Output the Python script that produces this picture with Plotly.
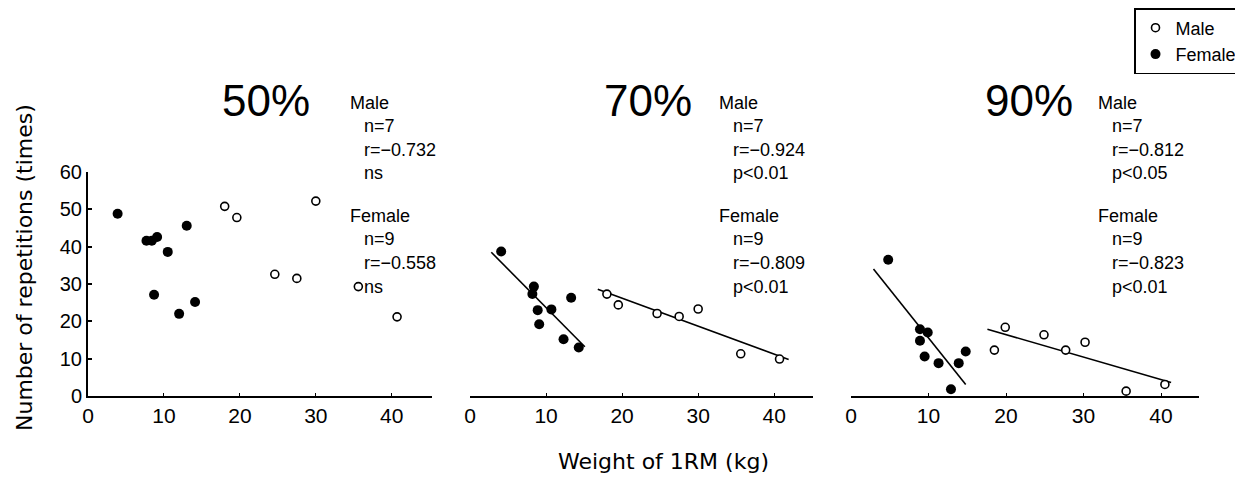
import plotly.graph_objects as go

# ---------------- data ----------------
x_ticks = [0, 10, 20, 30, 40]
y_ticks = [0, 10, 20, 30, 40, 50, 60]
panel_titles = ["50%", "70%", "90%"]

male_x_50 = [18.0, 19.6, 24.6, 27.5, 30.0, 35.6, 40.7]
male_y_50 = [50.8, 47.8, 32.6, 31.5, 52.2, 29.3, 21.2]
female_x_50 = [3.9, 7.7, 8.4, 9.1, 10.5, 13.0, 8.7, 12.0, 14.1]
female_y_50 = [48.8, 41.6, 41.6, 42.6, 38.6, 45.6, 27.1, 22.0, 25.2]

male_x_70 = [18.0, 19.5, 24.6, 27.5, 30.0, 35.6, 40.7]
male_y_70 = [27.3, 24.4, 22.1, 21.3, 23.3, 11.3, 9.9]
female_x_70 = [4.1, 8.4, 8.2, 8.9, 10.7, 9.1, 13.3, 12.3, 14.3]
female_y_70 = [38.7, 29.3, 27.3, 23.0, 23.2, 19.2, 26.3, 15.2, 13.0]
male_fit_x_70 = [16.8, 41.9]
male_fit_y_70 = [28.6, 9.8]
female_fit_x_70 = [2.8, 15.1]
female_fit_y_70 = [38.5, 13.2]

male_x_90 = [18.5, 19.9, 24.9, 27.7, 30.2, 35.5, 40.5]
male_y_90 = [12.3, 18.4, 16.4, 12.3, 14.4, 1.3, 3.1]
female_x_90 = [4.8, 8.9, 9.9, 8.9, 9.5, 11.3, 13.9, 14.8, 12.9]
female_y_90 = [36.5, 17.9, 17.0, 14.8, 10.6, 8.8, 8.8, 11.9, 1.8]
male_fit_x_90 = [17.6, 41.3]
male_fit_y_90 = [17.9, 3.6]
female_fit_x_90 = [2.9, 14.8]
female_fit_y_90 = [34.0, 3.1]

male_stats = [["n=7", "r=\u22120.732", "ns"],
              ["n=7", "r=\u22120.924", "p<0.01"],
              ["n=7", "r=\u22120.812", "p<0.05"]]
female_stats = [["n=9", "r=\u22120.558", "ns"],
                ["n=9", "r=\u22120.809", "p<0.01"],
                ["n=9", "r=\u22120.823", "p<0.01"]]

x_title = "Weight of 1RM (kg)"
y_title = "Number of repetitions (times)"

# ---------------- layout geometry ----------------
# the page body adds an 8px offset, so the figure is 8px smaller and all
# target screen positions are shifted by OFF
OFF = 8
W, H = 1243 - OFF, 477 - OFF
ML = 88 - OFF
MT = 172 - OFF
PLOT_RIGHT = 1199 - OFF
PLOT_BOTTOM = 396 - OFF
MR = W - PLOT_RIGHT
MB = H - PLOT_BOTTOM
PW = W - ML - MR
PH = H - MT - MB

def px_x(p):
    return (p - OFF - ML) / PW

def px_y(p):
    return (PLOT_BOTTOM - (p - OFF)) / PH

panel_px = [(88, 432), (470, 813), (851, 1199)]
x_ranges = [[0, 45.3], [0, 45.1], [0, 44.9]]

FONT = "Liberation Sans, Arial, Helvetica, sans-serif"
TITLE_FONT = "DejaVu Sans, Liberation Sans, sans-serif"

fig = go.Figure()

panels = [
    (male_x_50, male_y_50, female_x_50, female_y_50, None),
    (male_x_70, male_y_70, female_x_70, female_y_70,
     (male_fit_x_70, male_fit_y_70, female_fit_x_70, female_fit_y_70)),
    (male_x_90, male_y_90, female_x_90, female_y_90,
     (male_fit_x_90, male_fit_y_90, female_fit_x_90, female_fit_y_90)),
]

for i, (mx, my, fx, fy, fits) in enumerate(panels):
    xa = "x" if i == 0 else f"x{i+1}"
    ya = "y" if i == 0 else f"y{i+1}"
    if fits is not None:
        mfx, mfy, ffx, ffy = fits
        fig.add_trace(go.Scatter(x=mfx, y=mfy, mode="lines", xaxis=xa, yaxis=ya,
                                 line=dict(color="black", width=1.6),
                                 showlegend=False, hoverinfo="skip"))
        fig.add_trace(go.Scatter(x=ffx, y=ffy, mode="lines", xaxis=xa, yaxis=ya,
                                 line=dict(color="black", width=1.6),
                                 showlegend=False, hoverinfo="skip"))
    fig.add_trace(go.Scatter(x=mx, y=my, mode="markers", xaxis=xa, yaxis=ya,
                             name="Male", legendgroup="m", showlegend=(i == 0),
                             cliponaxis=False,
                             marker=dict(symbol="circle", size=8, color="white",
                                         line=dict(color="black", width=1.6))))
    fig.add_trace(go.Scatter(x=fx, y=fy, mode="markers", xaxis=xa, yaxis=ya,
                             name="Female", legendgroup="f", showlegend=(i == 0),
                             cliponaxis=False,
                             marker=dict(symbol="circle", size=10, color="black",
                                         line=dict(color="black", width=0))))

layout = dict(
    width=W, height=H,
    margin=dict(l=ML, r=MR, t=MT, b=MB, autoexpand=False),
    paper_bgcolor="white", plot_bgcolor="white",
    font=dict(family=FONT, color="black"),
    showlegend=True,
    legend=dict(x=px_x(1134), y=px_y(8), xanchor="left", yanchor="top",
                bordercolor="black", borderwidth=1.5, bgcolor="white",
                font=dict(size=18, family=FONT, color="black"),
                tracegroupgap=0, traceorder="normal"),
)

for i, (a, b) in enumerate(panel_px):
    xk = "xaxis" if i == 0 else f"xaxis{i+1}"
    yk = "yaxis" if i == 0 else f"yaxis{i+1}"
    ya = "y" if i == 0 else f"y{i+1}"
    xa = "x" if i == 0 else f"x{i+1}"
    layout[xk] = dict(domain=[max(0, px_x(a)), min(1, px_x(b))], range=x_ranges[i], anchor=ya,
                      showline=True, linecolor="black", linewidth=2,
                      ticks="inside", ticklen=3, tickwidth=1, tickcolor="black",
                      tickvals=x_ticks, tickfont=dict(size=21, family=FONT),
                      showgrid=False, zeroline=False, fixedrange=True)
    if i == 0:
        layout[yk] = dict(range=[0, 60], anchor=xa, domain=[0, 1],
                          showline=True, linecolor="black", linewidth=2,
                          ticks="inside", ticklen=4, tickwidth=1.5, tickcolor="black",
                          tickvals=y_ticks, tickfont=dict(size=20, family=FONT),
                          showgrid=False, zeroline=False, fixedrange=True)
    else:
        layout[yk] = dict(range=[0, 60], anchor=xa, domain=[0, 1], visible=False,
                          showgrid=False, zeroline=False, fixedrange=True)

annotations = []
title_cx = [266, 648, 1029]
header_x = [348, 717, 1096]
male_rows_y = [103, 126, 150, 173]
female_rows_y = [216, 239, 263, 287]

for i in range(3):
    annotations.append(dict(text=panel_titles[i], xref="paper", yref="paper",
                            x=px_x(title_cx[i]), y=px_y(101), xanchor="center",
                            yanchor="middle", showarrow=False,
                            font=dict(size=44, family=FONT, color="black")))
    blocks = [("Male", male_stats[i], male_rows_y), ("Female", female_stats[i], female_rows_y)]
    for head, rows, ys in blocks:
        annotations.append(dict(text=head, xref="paper", yref="paper",
                                x=px_x(header_x[i]), y=px_y(ys[0]), xanchor="left",
                                yanchor="middle", showarrow=False,
                                font=dict(size=18, family=FONT, color="black")))
        for t, yy in zip(rows, ys[1:]):
            annotations.append(dict(text=t, xref="paper", yref="paper",
                                    x=px_x(header_x[i] + 14), y=px_y(yy), xanchor="left",
                                    yanchor="middle", showarrow=False,
                                    font=dict(size=18, family=FONT, color="black")))

annotations.append(dict(text=x_title, xref="paper", yref="paper",
                        x=px_x(663), y=px_y(461), xanchor="center", yanchor="middle",
                        showarrow=False, font=dict(size=22, family=TITLE_FONT, color="black")))
annotations.append(dict(text=y_title, xref="paper", yref="paper",
                        x=px_x(24), y=px_y(268), xanchor="center", yanchor="middle",
                        textangle=-90, showarrow=False,
                        font=dict(size=22, family=TITLE_FONT, color="black")))

layout["annotations"] = annotations
fig.update_layout(**layout)

fig.write_html("out.html")
